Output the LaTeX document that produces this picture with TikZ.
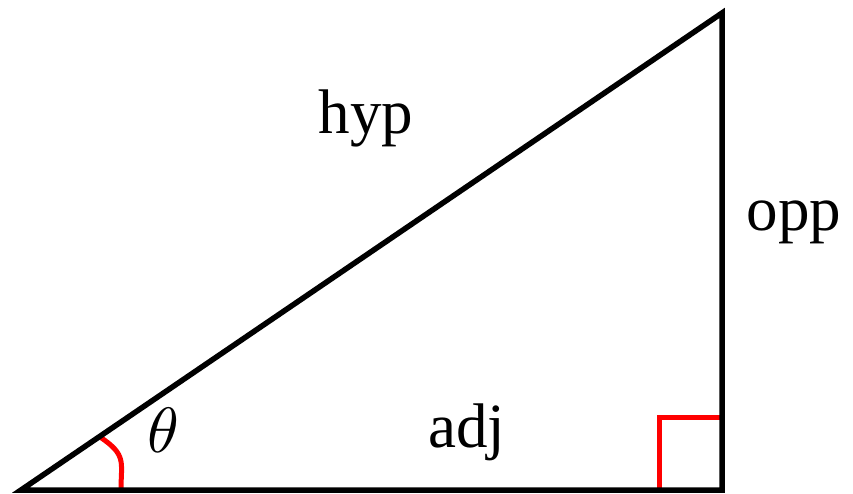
\documentclass[tikz,border=0pt]{standalone}
\usepackage{fontspec}
\setmainfont{Liberation Serif}
\usetikzlibrary{positioning}

\tikzset{
  side/.style={line width=5.5pt, line join=miter},
  anglemark/.style={red, line width=5pt},
  sidelabel/.style={font=\fontsize{63}{70}\selectfont, inner sep=0pt}
}

\begin{document}
\begin{tikzpicture}[x=1pt, y=-1pt]
    \useasboundingbox (0,0) rectangle (853,494);

    \coordinate (A) at (21,490);
    \coordinate (B) at (722,490);
    \coordinate (C) at (722,13);

    \coordinate (a1) at (100,437);
    \coordinate (a2) at (121,490);
    \coordinate (r1) at (659,490);
    \coordinate (r2) at (659,417);
    \coordinate (r3) at (722,417);

    \draw[anglemark] (a1) .. controls (127,455) and (121,462) .. (a2);
    \draw[anglemark] (r1) -- (r2) -- (r3);

    \draw[side] (A) -- (B) -- (C) -- cycle;

    \node[sidelabel] (hyp) at (366,118) {hyp};
    \node[sidelabel] (opp) at (794,222) {opp};
    \node[sidelabel] (adj) at (467,432) {adj};
    \node[inner sep=0pt, scale=6.4] (theta) at (163,430) {$\theta$};
  \end{tikzpicture}
\end{document}
